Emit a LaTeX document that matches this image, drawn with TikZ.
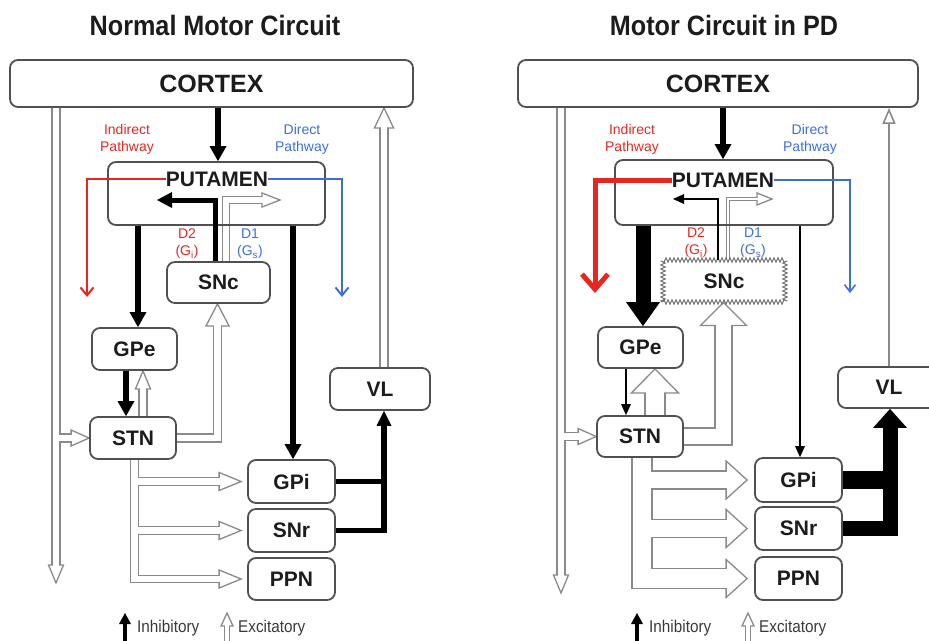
\documentclass[tikz,border=0pt]{standalone}
\usepackage{fontspec}
\setmainfont{Liberation Sans}
\usetikzlibrary{arrows.meta,calc,decorations.pathmorphing}
\pgfdeclarelayer{outer}
\pgfdeclarelayer{heads}
\pgfdeclarelayer{inner}
\pgfsetlayers{outer,heads,inner,main}
\definecolor{boxc}{HTML}{505050}
\definecolor{pipec}{HTML}{8A8A8A}
\definecolor{redc}{HTML}{E8261F}
\definecolor{bluec}{HTML}{3C6EE2}
\definecolor{txtc}{HTML}{1C1C1C}
\definecolor{legc}{HTML}{3A3A3A}
\newcommand\pipe[2]{%
 \begin{pgfonlayer}{outer}\draw[draw=pipec,line width={(#1+1.3)*1pt},line join=miter] #2;\end{pgfonlayer}%
 \begin{pgfonlayer}{inner}\draw[draw=white,line width={(#1-1.3)*1pt},line join=miter] #2;\end{pgfonlayer}}
\newcommand\hhead[4]{%
 \begin{pgfonlayer}{heads}\filldraw[draw=pipec,fill=white,line width=1.3pt,line join=miter,shift={#1},rotate=#2] (0,0) -- (-#3,#4) -- (-#3,-#4) -- cycle;\end{pgfonlayer}}
\begin{document}
\begin{tikzpicture}[x=1pt,y=-1pt,
 box/.style={draw=boxc,line width=1.8pt,rounded corners=8pt,inner sep=0pt,text=txtc,font=\bfseries\fontsize{21}{21}\selectfont},
 ctx/.style={box,font=\bfseries\fontsize{25}{25}\selectfont},
 zz/.style={draw=boxc!80,line width=1pt,inner sep=0pt,text=txtc,font=\bfseries\fontsize{21}{21}\selectfont,decorate,decoration={zigzag,segment length=4pt,amplitude=2.2pt}},
 lbl/.style={font=\bfseries\fontsize{21}{21}\selectfont,text=txtc,inner sep=0pt},
 ttl/.style={font=\bfseries\fontsize{28}{28}\selectfont,text=txtc,inner sep=0pt},
 pw/.style={font=\fontsize{14}{17}\selectfont,align=center,inner sep=0pt},
 leg/.style={font=\fontsize{17}{17}\selectfont,text=legc,anchor=west,inner sep=0pt},
 inhA/.style={draw=black,line width=6.5pt,line join=miter,-{Triangle[length=15pt,width=17pt,line width=0pt]}},
 inhB/.style={draw=black,line width=5pt,line join=miter,-{Triangle[length=15pt,width=16pt,line width=0pt]}},
 inhC/.style={draw=black,line width=5.5pt,line join=miter,-{Triangle[length=15pt,width=15pt,line width=0pt]}},
 inhBig/.style={draw=black,line width=15pt,line join=miter,-{Triangle[length=24pt,width=34pt,line width=0pt]}},
 inhThin/.style={draw=black,line width=2pt,line join=miter,-{Triangle[length=11pt,width=10pt,line width=0pt]}},
 inhV/.style={draw=black,line width=15pt,line join=miter,-{Triangle[length=19pt,width=34pt,line width=0pt]}},
 redA/.style={draw=redc,line width=2pt,-{Straight Barb[length=8pt,width=13pt]}},
 redB/.style={draw=redc,line width=5pt,line join=miter,-{Straight Barb[length=15pt,width=26pt]}},
 blueA/.style={draw=bluec,line width=2pt,-{Straight Barb[length=8pt,width=13pt]}},
 blueB/.style={draw=bluec,line width=1.6pt,-{Straight Barb[length=7pt,width=11pt]}},
 thinex/.style={draw=pipec,line width=1.6pt,-{Triangle[open,length=16pt,width=13pt]}}
]
\useasboundingbox (0,0) rectangle (929,640);
\clip (0,0) rectangle (929,640);
% ================= LEFT PANEL =================
\node[ttl] (ttlL) at (215,25) {\scalebox{0.9}[1]{Normal Motor Circuit}};
\node[ctx,minimum width=403pt,minimum height=47pt] (cortexL) at (211.5,83.5) {CORTEX};
\node[box,minimum width=217pt,minimum height=63pt] (putL) at (216.5,193.5) {};
\node[lbl] (putLt) at (217,179) {PUTAMEN};
\node[box,minimum width=103pt,minimum height=41pt] (sncL) at (218.5,282.5) {SNc};
\node[box,minimum width=85pt,minimum height=42pt] (gpeL) at (134.5,349) {GPe};
\node[box,minimum width=86pt,minimum height=42pt] (stnL) at (133,438) {STN};
\node[box,minimum width=87pt,minimum height=43pt] (gpiL) at (291.5,481.5) {GPi};
\node[box,minimum width=87pt,minimum height=43pt] (snrL) at (291.5,530.5) {SNr};
\node[box,minimum width=87pt,minimum height=42pt] (ppnL) at (291.5,579) {PPN};
\node[box,minimum width=100pt,minimum height=42pt] (vlL) at (380,389) {VL};
\node[pw,text=redc] (indL) at (127,139) {Indirect\\Pathway};
\node[pw,text=bluec] (dirL) at (302,139) {Direct\\Pathway};
\node[pw,text=redc] (d2L) at (187,244) {D2\\(G\textsubscript{i})};
\node[pw,text=bluec] (d1L) at (250,244) {D1\\(G\textsubscript{s})};
% lanes
\coordinate (La) at (56,0);
\coordinate (LaT) at (56,583);
\coordinate (Lc) at (384,0);
\coordinate (Ld) at (143,0);
\coordinate (Le) at (217.5,0);
\coordinate (Lf) at (134.5,0);
\coordinate (Lg) at (226,200);
\coordinate (LgT) at (280,200);
\coordinate (Lk1) at (218,0);
\coordinate (Lk2) at (138,0);
\coordinate (Lk3) at (293,0);
\coordinate (Lk4) at (126,0);
\coordinate (Lk5) at (215,200);
\coordinate (Lk5T) at (157,200);
\coordinate (Lk6) at (384,0);
\coordinate (Lr) at (87,297);
\coordinate (Lb) at (342,297);
% excitatory pipes
\pipe{8}{(cortexL.south -| La) -- ($(LaT)+(0,-16.5)$)}
\hhead{(LaT)}{-90}{18}{7.5}
\pipe{8}{(La |- stnL.west) -- ($(stnL.west)+(-16.5,0)$)}
\hhead{(stnL.west)}{0}{18}{8}
\pipe{8}{(vlL.north -| Lc) -- ($(cortexL.south -| Lc)+(0,18.5)$)}
\hhead{(cortexL.south -| Lc)}{90}{20}{9.5}
\pipe{8}{(stnL.north -| Ld) -- ($(gpeL.south -| Ld)+(0,16.5)$)}
\hhead{(gpeL.south -| Ld)}{90}{18}{7.5}
\pipe{8}{(stnL.east) -- (Le |- stnL.east) -- ($(sncL.south -| Le)+(0,20.5)$)}
\hhead{(sncL.south -| Le)}{90}{22}{11.5}
\pipe{7.5}{(stnL.south -| Lf) -- (Lf |- ppnL.west) -- ($(ppnL.west)+(-26.5,0)$)}
\pipe{7.5}{(Lf |- gpiL.west) -- ($(gpiL.west)+(-26.5,0)$)}
\pipe{7.5}{(Lf |- snrL.west) -- ($(snrL.west)+(-26.5,0)$)}
\hhead{($(gpiL.west)+(-6,0)$)}{0}{22}{9}
\hhead{($(snrL.west)+(-6,0)$)}{0}{22}{9}
\hhead{($(ppnL.west)+(-6,0)$)}{0}{22}{9}
\pipe{7}{(sncL.north -| Lg) -- (Lg) -- ($(LgT)+(-16.5,0)$)}
\hhead{(LgT)}{0}{18}{7}
% inhibitory
\draw[inhA] (cortexL.south -| Lk1) -- (putL.north -| Lk1);
\draw[inhA] (putL.south -| Lk2) -- (gpeL.north -| Lk2);
\draw[inhA] (putL.south -| Lk3) -- (gpiL.north -| Lk3);
\draw[inhA] (gpeL.south -| Lk4) -- (stnL.north -| Lk4);
\draw[inhB] (sncL.north -| Lk5) -- (Lk5) -- (Lk5T);
\draw[inhC] (snrL.east) -| (vlL.south -| Lk6);
\draw[draw=black,line width=5.5pt] (gpiL.east) -- (Lk6 |- gpiL.east);
% pathways
\draw[redA] (putLt.west) -| (Lr);
\draw[blueA] (putLt.east) -| (Lb);
% legend
\coordinate (lgL0) at (125,641);
\coordinate (lgL1) at (125,613);
\coordinate (lgL2) at (227,641);
\coordinate (lgL3) at (227,613);
\draw[draw=black,line width=4pt,-{Triangle[length=11pt,width=12pt,line width=0pt]}] (lgL0) -- (lgL1);
\pipe{4.5}{(lgL2) -- ($(lgL3)+(0,11.5)$)}
\hhead{(lgL3)}{90}{13}{6}
\node[leg] (lgLi) at (137,628) {\scalebox{0.9}[1]{Inhibitory}};
\node[leg] (lgLe) at (238,628) {\scalebox{0.9}[1]{Excitatory}};
% ================= RIGHT PANEL =================
\node[ttl] (ttlR) at (724,25) {\scalebox{0.9}[1]{Motor Circuit in PD}};
\node[ctx,minimum width=400pt,minimum height=47pt] (cortexR) at (718,83.5) {CORTEX};
\node[box,minimum width=218pt,minimum height=65pt] (putR) at (724,192.5) {};
\node[lbl] (putRt) at (723,180) {PUTAMEN};
\node[zz,minimum width=122pt,minimum height=42pt] (sncR) at (724,281) {SNc};
\node[box,minimum width=85pt,minimum height=41pt] (gpeR) at (640.5,347.5) {GPe};
\node[box,minimum width=86pt,minimum height=41pt] (stnR) at (640,436.5) {STN};
\node[box,minimum width=87pt,minimum height=44pt] (gpiR) at (798.5,480) {GPi};
\node[box,minimum width=87pt,minimum height=43pt] (snrR) at (798.5,528.5) {SNr};
\node[box,minimum width=87pt,minimum height=43pt] (ppnR) at (798.5,578.5) {PPN};
\node[box,minimum width=102pt,minimum height=41pt] (vlR) at (889,387.5) {VL};
\node[pw,text=redc] (indR) at (632,139) {Indirect\\Pathway};
\node[pw,text=bluec] (dirR) at (810,139) {Direct\\Pathway};
\node[pw,text=redc] (d2R) at (696,243) {D2\\(G\textsubscript{i})};
\node[pw,text=bluec] (d1R) at (753,243) {D1\\(G\textsubscript{s})};
\coordinate (Ra) at (561,0);
\coordinate (RaT) at (561,593);
\coordinate (Rd) at (655,0);
\coordinate (Re) at (723.5,0);
\coordinate (Rf) at (642,0);
\coordinate (Rg) at (728,199);
\coordinate (RgT) at (772,199);
\coordinate (Rk1) at (723,0);
\coordinate (Rk2) at (643,0);
\coordinate (Rk3) at (800,0);
\coordinate (Rk4) at (626,0);
\coordinate (Rk5) at (718,199);
\coordinate (Rk5T) at (673,199);
\coordinate (Rk6) at (890,0);
\coordinate (Rr) at (595,293);
\coordinate (Rb) at (850,293);
% excitatory
\pipe{8}{(cortexR.south -| Ra) -- ($(RaT)+(0,-16.5)$)}
\hhead{(RaT)}{-90}{18}{7.5}
\pipe{8}{(Ra |- stnR.west) -- ($(stnR.west)+(-16.5,0)$)}
\hhead{(stnR.west)}{0}{18}{8}
\draw[thinex] (vlR.north) -- (cortexR.south -| vlR.north);
\pipe{20}{(stnR.north -| Rd) -- ($(gpeR.south -| Rd)+(0,22.5)$)}
\hhead{(gpeR.south -| Rd)}{90}{24}{23.5}
\pipe{17}{(stnR.east) -- (Re |- stnR.east) -- ($(sncR.south -| Re)+(0,21.5)$)}
\hhead{(sncR.south -| Re)}{90}{23}{23}
\pipe{20}{(stnR.south -| Rf) -- (Rf |- ppnR.west) -- ($(ppnR.west)+(-26.5,0)$)}
\pipe{18}{(Rf |- gpiR.west) -- ($(gpiR.west)+(-26.5,0)$)}
\pipe{18}{(Rf |- snrR.west) -- ($(snrR.west)+(-26.5,0)$)}
\hhead{($(gpiR.west)+(-7,0)$)}{0}{21}{19}
\hhead{($(snrR.west)+(-7,0)$)}{0}{21}{19}
\hhead{($(ppnR.west)+(-7,0)$)}{0}{21}{19}
\pipe{3.5}{(sncR.north -| Rg) -- (Rg) -- ($(RgT)+(-13.5,0)$)}
\hhead{(RgT)}{0}{15}{6}
% inhibitory
\draw[inhA] (cortexR.south -| Rk1) -- (putR.north -| Rk1);
\draw[inhBig] (putR.south -| Rk2) -- (gpeR.north -| Rk2);
\draw[inhThin] (putR.south -| Rk3) -- (gpiR.north -| Rk3);
\draw[inhThin] (gpeR.south -| Rk4) -- (stnR.north -| Rk4);
\draw[inhThin] (sncR.north -| Rk5) -- (Rk5) -- (Rk5T);
\draw[inhV] (snrR.east) -| (vlR.south -| Rk6);
\draw[draw=black,line width=18pt] (gpiR.east) -- (Rk6 |- gpiR.east);
\draw[redB] (putRt.west) -| (Rr);
\draw[blueB] (putRt.east) -| (Rb);
% legend
\coordinate (lgR0) at (637,641);
\coordinate (lgR1) at (637,613);
\coordinate (lgR2) at (748,641);
\coordinate (lgR3) at (748,613);
\draw[draw=black,line width=4pt,-{Triangle[length=11pt,width=12pt,line width=0pt]}] (lgR0) -- (lgR1);
\pipe{4.5}{(lgR2) -- ($(lgR3)+(0,11.5)$)}
\hhead{(lgR3)}{90}{13}{6}
\node[leg] (lgRi) at (649,628) {\scalebox{0.9}[1]{Inhibitory}};
\node[leg] (lgRe) at (759,628) {\scalebox{0.9}[1]{Excitatory}};
\end{tikzpicture}
\end{document}
